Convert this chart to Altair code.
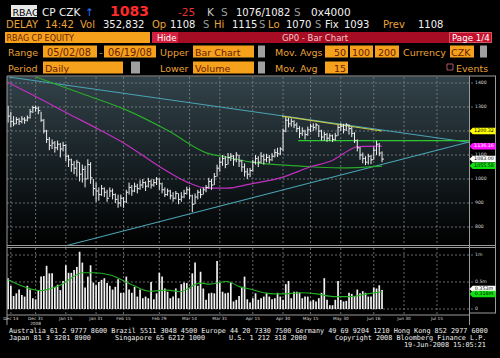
import altair as alt
import pandas as pd

# ---------------- data ----------------
close = [1262, 1240, 1230, 1248, 1240, 1250, 1245, 1255, 1280, 1298,
         1295, 1285, 1245, 1200, 1165, 1140, 1150, 1130, 1145, 1125,
         1140, 1095, 1080, 1060, 1045, 1070, 1020, 1040, 1000, 1060,
         1005, 960, 950, 935, 960, 945, 920, 950, 935, 915,
         900, 920, 905, 945, 965, 950, 970, 960, 975, 985,
         970, 990, 975, 985, 1000, 980, 955, 935, 950, 930,
         920, 940, 915, 925, 940, 955, 930, 895, 925, 945,
         935, 955, 965, 990, 975, 1010, 1045, 1070, 1085, 1060,
         1090, 1095, 1080, 1100, 1075, 1050, 1030, 1020, 1035, 1070,
         1085, 1070, 1095, 1080, 1090, 1080, 1095, 1110, 1105, 1125,
         1200, 1245, 1230, 1240, 1225, 1210, 1190, 1200, 1185, 1205,
         1220, 1215, 1225, 1200, 1175, 1185, 1170, 1180, 1165, 1180,
         1215, 1220, 1205, 1225, 1210, 1190, 1160, 1130, 1100, 1085,
         1070, 1095, 1080, 1120, 1145, 1108, 1083]
high = [1305, 1280, 1262, 1258, 1255, 1262, 1258, 1265, 1292, 1305,
        1305, 1302, 1280, 1250, 1205, 1175, 1165, 1158, 1160, 1150,
        1155, 1145, 1100, 1085, 1075, 1080, 1070, 1060, 1055, 1082,
        1070, 1000, 985, 965, 975, 965, 955, 965, 960, 940,
        935, 935, 925, 955, 985, 975, 985, 980, 995, 1000,
        990, 1005, 998, 1000, 1008, 1002, 985, 965, 960, 955,
        945, 950, 940, 945, 955, 968, 965, 935, 940, 955,
        960, 965, 975, 1005, 1000, 1025, 1060, 1090, 1100, 1095,
        1108, 1108, 1100, 1112, 1100, 1080, 1065, 1045, 1046, 1080,
        1100, 1095, 1112, 1105, 1105, 1100, 1108, 1125, 1130, 1133,
        1210, 1258, 1255, 1252, 1245, 1235, 1220, 1215, 1205, 1218,
        1230, 1232, 1233, 1225, 1205, 1196, 1192, 1190, 1185, 1192,
        1225, 1233, 1230, 1233, 1228, 1217, 1195, 1165, 1133, 1110,
        1095, 1105, 1100, 1135, 1160, 1150, 1115]
low = [1235, 1215, 1220, 1228, 1225, 1232, 1230, 1240, 1252, 1275,
       1280, 1270, 1238, 1190, 1150, 1120, 1125, 1110, 1120, 1090,
       1115, 1075, 1050, 1030, 1020, 1010, 990, 985, 965, 1000,
       980, 930, 905, 910, 930, 925, 905, 925, 915, 900,
       880, 885, 880, 900, 935, 930, 945, 940, 955, 962,
       950, 965, 960, 968, 975, 955, 940, 925, 930, 915,
       905, 915, 895, 905, 920, 935, 915, 862, 895, 915,
       920, 935, 945, 960, 955, 975, 1010, 1030, 1055, 1045,
       1060, 1075, 1055, 1070, 1050, 1030, 1010, 1000, 1008, 1030,
       1060, 1050, 1065, 1060, 1070, 1065, 1075, 1090, 1092, 1100,
       1115, 1195, 1215, 1218, 1212, 1195, 1170, 1180, 1165, 1180,
       1195, 1200, 1205, 1175, 1160, 1160, 1155, 1158, 1154, 1160,
       1180, 1200, 1190, 1200, 1185, 1175, 1150, 1115, 1080, 1065,
       1058, 1060, 1062, 1080, 1100, 1095, 1070]
volume_m = [0.57, 0.43, 0.24, 0.29, 0.36, 0.26, 0.23, 0.43, 0.36, 0.20,
            0.18, 0.35, 0.60, 0.61, 0.80, 0.66, 0.66, 0.41, 0.45, 0.35,
            0.52, 0.81, 0.67, 0.67, 0.72, 0.78, 1.06, 0.86, 0.40, 0.60,
            0.81, 0.49, 0.44, 0.50, 0.54, 0.57, 0.48, 0.43, 0.36, 0.41,
            0.55, 0.30, 0.30, 0.60, 0.36, 0.30, 0.41, 0.23, 0.36, 0.20,
            0.23, 0.20, 0.50, 0.18, 0.29, 0.67, 0.60, 0.38, 0.32,
            0.20, 0.23, 0.38, 0.20, 0.46, 0.49, 0.48, 0.38, 0.66, 0.86,
            0.43, 0.69, 0.38, 0.17, 0.29, 0.30, 0.29, 0.89, 0.48, 0.32,
            0.29, 0.30, 0.49, 0.14, 0.17, 0.24, 0.41, 0.60, 0.18,
            0.12, 0.20, 0.29, 0.17, 0.20, 0.23, 0.30, 0.23, 0.18, 0.20,
            0.30, 0.23, 0.17, 0.46, 0.52, 0.20, 0.32, 0.32, 0.30, 0.20,
            0.23, 0.23, 0.14, 0.17, 0.14, 0.20, 0.30, 0.57, 0.17, 0.07,
            0.07, 0.17, 0.52, 0.17, 0.14, 0.15, 0.30, 0.28, 0.24, 0.36,
            0.29, 0.33, 0.30, 0.23, 0.23, 0.40, 0.38, 0.44, 0.353]

# moving averages
ma_mag_idx = [0, 9, 21.4, 33.4, 43.2, 55.3, 65.1, 72.4, 79.6, 88, 100, 109.8, 118.2, 124, 127, 136]
ma_mag_val = [1402, 1350, 1275, 1204, 1142, 1050, 987, 962, 962, 979, 1008, 1050, 1079, 1120, 1135, 1137]
ma_grn_idx = [10.1, 27, 43.1, 57.8, 72.4, 80, 88, 106.2, 120.7, 136]
ma_grn_val = [1425, 1355, 1287, 1204, 1108, 1090, 1071, 1054, 1046, 1054]
vma_idx = [0, 4.3, 11.6, 18.9, 27.2, 30.9, 37.1, 45.4, 51.6, 57.8, 62.5, 69.8, 73.4, 79.6,
           84.4, 88, 94.2, 100, 106.2, 112.3, 118.2, 124.4, 130.6, 136]
vma_val = [0.54, 0.44, 0.34, 0.44, 0.67, 0.67, 0.63, 0.44, 0.33, 0.35, 0.32, 0.48, 0.46, 0.51,
           0.41, 0.37, 0.29, 0.28, 0.30, 0.28, 0.23, 0.23, 0.28, 0.32]

# drawn trend lines
upper_tr_idx = [0.3, 168]
upper_tr_val = [1425, 1152]
lower_tr_idx = [20.7, 168]
lower_tr_val = [721, 1155]
resist_idx = [99.6, 136]
resist_val = [1262, 1200]
level_idx = [105.5, 168]
level_val = [1160, 1160]

date_tick_idx = [1, 10, 21, 32, 42, 55, 66, 77, 89, 100, 110, 121, 133, 144, 156]
date_tick_labels = ["Dec 14", "Dec 31", "Jan 15", "Jan 31", "Feb 15", "Feb 29", "Mar 14",
                    "Mar 31", "Apr 15", "Apr 30", "May 15", "May 30", "Jun 16", "Jun 30", "Jul 15"]
year_idx = [10]
year_label = ["2008"]
price_ticks = [800, 900, 1000, 1100, 1200, 1300, 1400]
price_tick_labels = ["800", "900", "1000", "1100", "1200", "1300", "1400"]
vol_ticks = [0, 0.5, 1.0]
vol_tick_labels = ["0", "0.5m", "1m"]

price_tag_vals = [1200.32, 1136.16, 1083.00, 1055.58]
price_tag_text = ["1200.32", "1136.16", "1083.00", "1055.58"]
vol_tag_vals = [0.37, 0.28]
vol_tag_text = ["0.353m", "0.318m"]

# ---------------- styles ----------------
ORANGE = "#f5a11c"
ORANGE_T = "#eba236"
WHITE = "#f2f2f2"
GREYT = "#9b9b9b"
FIELD_T = "#6a2000"
GRID = "#7d8488"
FRAME = "#9a9a9a"
FONT = "DejaVu Sans"
MONO = "DejaVu Sans Mono"

XS = alt.Scale(domain=[-0.4, 168], range=[7, 470], nice=False, zero=False)
PS = alt.Scale(domain=[800, 1400], range=[227, 83], nice=False, zero=False)
VS = alt.Scale(domain=[0, 1], range=[309, 255], nice=False, zero=False)


def xi(f="i"):
    return alt.X(f + ":Q", scale=XS, axis=None)


def yp(f="p"):
    return alt.Y(f + ":Q", scale=PS, axis=None)


def yv(f="v"):
    return alt.Y(f + ":Q", scale=VS, axis=None)


one = alt.Data(values=[{}])
layers = []

# panel background gradient
grad = alt.LinearGradient(gradient="linear",
                          stops=[alt.GradientStop(color="#33434a", offset=0),
                                 alt.GradientStop(color="#121a1d", offset=0.6),
                                 alt.GradientStop(color="#000000", offset=1)],
                          x1=0, x2=0, y1=0, y2=1)
layers.append(alt.Chart(one).mark_rect(color=grad).encode(
    x=alt.value(7), x2=alt.value(469.5), y=alt.value(76.5), y2=alt.value(245)))

# gridlines
ticks_df = pd.DataFrame({"i": date_tick_idx, "t": date_tick_labels})
for y0, y1 in [(77, 245), (248, 315)]:
    layers.append(alt.Chart(ticks_df).mark_rule(color=GRID, strokeDash=[2, 2], strokeWidth=0.8).encode(
        x=xi(), y=alt.value(y0), y2=alt.value(y1)))
pt_df = pd.DataFrame({"p": price_ticks, "t": price_tick_labels})
layers.append(alt.Chart(pt_df).mark_rule(color=GRID, strokeDash=[2, 2], strokeWidth=0.8).encode(
    y=yp(), x=alt.value(7), x2=alt.value(473)))
vt_df = pd.DataFrame({"v": vol_ticks, "t": vol_tick_labels})
layers.append(alt.Chart(vt_df).mark_rule(color=GRID, strokeDash=[2, 2], strokeWidth=0.8).encode(
    y=yv(), x=alt.value(7), x2=alt.value(473)))


# trend lines
def seg(ix, vals, color, w=1.0):
    d = pd.DataFrame({"i": ix, "p": vals})
    return alt.Chart(d).mark_line(color=color, strokeWidth=w).encode(x=xi(), y=yp())


layers.append(seg(upper_tr_idx, upper_tr_val, "#4aa3b5", 1.1))
layers.append(seg(lower_tr_idx, lower_tr_val, "#4aa3b5", 1.1))
layers.append(seg(level_idx, level_val, "#2ec82e", 1.1))
layers.append(seg(resist_idx, resist_val, "#c4c84a", 1.1))

# moving averages
for ix, vals, col in [(ma_grn_idx, ma_grn_val, "#2aaa2a"), (ma_mag_idx, ma_mag_val, "#c030c0")]:
    d = pd.DataFrame({"i": ix, "p": vals})
    layers.append(alt.Chart(d).mark_line(color=col, strokeWidth=1.2, interpolate="monotone").encode(
        x=xi(), y=yp()))

# price bars
bars = pd.DataFrame({"i": list(range(len(close))), "h": high, "l": low, "c": close})
layers.append(alt.Chart(bars).mark_rule(color=WHITE, strokeWidth=1).encode(
    x=xi(), y=yp("l"), y2="h:Q"))
layers.append(alt.Chart(bars).mark_tick(color=WHITE, orient="horizontal", size=2, thickness=1,
                                        xOffset=1, opacity=1).encode(x=xi(), y=yp("c")))

# volume bars and average
vol = pd.DataFrame({"i": list(range(len(volume_m))), "v": volume_m})
layers.append(alt.Chart(vol).mark_rule(color=WHITE, strokeWidth=1.7).encode(
    x=xi(), y=yv(), y2=alt.datum(0)))
vma = pd.DataFrame({"i": vma_idx, "v": vma_val})
layers.append(alt.Chart(vma).mark_line(color="#22b022", strokeWidth=1.1, interpolate="monotone").encode(
    x=xi(), y=yv()))

# frame
frame = pd.DataFrame({
    "x0": [7, 7, 469.5, 495.5, 7, 7, 7, 469.5],
    "y0": [76, 76, 76, 76, 245.5, 247.5, 315, 313],
    "x1": [496, 7, 469.5, 495.5, 496, 496, 469.5, 496],
    "y1": [76, 325, 325, 313, 245.5, 247.5, 315, 313]})
layers.append(alt.Chart(frame).mark_rule(color=FRAME, strokeWidth=1).encode(
    x=alt.X("x0:Q", scale=None, axis=None), x2="x1:Q",
    y=alt.Y("y0:Q", scale=None, axis=None), y2="y1:Q"))

# axis labels (the 1200 label sits under the yellow value tag in the reference)
layers.append(alt.Chart(pt_df).transform_filter("datum.p != 1200").mark_text(
    font=FONT, fontSize=4.6, align="left", baseline="middle", color="#d8d8d8").encode(
    x=alt.value(475), y=yp(), text="t:N"))
layers.append(alt.Chart(vt_df).mark_text(font=FONT, fontSize=4.6, align="left", baseline="middle",
                                         color="#d8d8d8").encode(x=alt.value(475), y=yv(), text="t:N"))
layers.append(alt.Chart(ticks_df).mark_text(font=FONT, fontSize=4.3, align="center", baseline="middle",
                                            color="#d8d8d8").encode(x=xi(), y=alt.value(319), text="t:N"))
layers.append(alt.Chart(pd.DataFrame({"i": year_idx, "t": year_label})).mark_text(
    font=FONT, fontSize=4.3, align="center", baseline="middle", color="#d8d8d8").encode(
    x=xi(), y=alt.value(324), text="t:N"))

# value tags
TAG = "M-1,0L-0.75,-0.25L1,-0.25L1,0.25L-0.75,0.25Z"
ptag = pd.DataFrame({"p": price_tag_vals, "t": price_tag_text,
                     "f": ["#ffff00", "#ff10ff", "#ffffff", "#10e010"],
                     "k": ["#000000", "#ffffff", "#000000", "#000000"]})
layers.append(alt.Chart(ptag).mark_point(shape=TAG, filled=True, size=676, opacity=1, strokeWidth=0).encode(
    x=alt.value(482.5), y=yp(), color=alt.Color("f:N", scale=None)))
layers.append(alt.Chart(ptag).mark_text(font=FONT, fontSize=4.8, align="center", baseline="middle").encode(
    x=alt.value(484), y=yp(), text="t:N", color=alt.Color("k:N", scale=None)))
vtag = pd.DataFrame({"v": vol_tag_vals, "t": vol_tag_text,
                     "f": ["#ffffff", "#10e010"], "k": ["#000000", "#000000"]})
layers.append(alt.Chart(vtag).mark_point(shape=TAG, filled=True, size=676, opacity=1, strokeWidth=0).encode(
    x=alt.value(482.5), y=yv(), color=alt.Color("f:N", scale=None)))
layers.append(alt.Chart(vtag).mark_text(font=FONT, fontSize=4.8, align="center", baseline="middle").encode(
    x=alt.value(484), y=yv(), text="t:N", color=alt.Color("k:N", scale=None)))

# ---------------- terminal header (layout) ----------------
boxes = [
    (11, 5, 37, 17, "#e8e8e8"),
    (5, 32, 150, 43, ORANGE), (152, 32, 178, 43, "#d4203f"),
    (178, 32, 449, 43, "#a60c24"), (449, 32, 492, 43, "#c4102c"),
    (43, 45.5, 97, 57.5, ORANGE), (104, 45.5, 156, 57.5, ORANGE),
    (193, 45.5, 254, 57.5, ORANGE), (258, 45.5, 265, 57.5, "#a0a0a0"),
    (325, 45.5, 348, 57.5, ORANGE), (350, 45.5, 373, 57.5, ORANGE), (375, 45.5, 399, 57.5, ORANGE),
    (450, 45.5, 474, 57.5, ORANGE), (480, 45.5, 487, 57.5, "#a0a0a0"),
    (43, 61.5, 123, 73.5, ORANGE), (131, 61.5, 140, 73.5, "#a0a0a0"),
    (193, 61.5, 254, 73.5, ORANGE), (258, 61.5, 265, 73.5, "#a0a0a0"),
    (325, 61.5, 348, 73.5, ORANGE),
]
bdf = pd.DataFrame(boxes, columns=["x0", "y0", "x1", "y1", "f"])
layers.append(alt.Chart(bdf).mark_rect().encode(
    x=alt.X("x0:Q", scale=None, axis=None), x2="x1:Q",
    y=alt.Y("y0:Q", scale=None, axis=None), y2="y1:Q", color=alt.Color("f:N", scale=None)))
outl = pd.DataFrame([(449.5, 32.5, 491.5, 42.5), (447, 64, 453, 70)], columns=["x0", "y0", "x1", "y1"])
layers.append(alt.Chart(outl).mark_rect(fillOpacity=0, stroke="#d86a78", strokeWidth=0.8).encode(
    x=alt.X("x0:Q", scale=None, axis=None), x2="x1:Q",
    y=alt.Y("y0:Q", scale=None, axis=None), y2="y1:Q"))

texts = [
    ("RBAG", 12.5, 15.5, "#000000", 9.5),
    ("CP CZK", 42, 16, WHITE, 10.5),
    ("\u2191", 85, 16, "#2f6cff", 10.5),
    ("-25", 178, 16, "#e83030", 10.5),
    ("K", 207, 16, "#cfcfcf", 10.5),
    ("S", 221, 16, GREYT, 10.5),
    ("1076/1082", 236, 16, WHITE, 10),
    ("S", 294, 16, GREYT, 10.5),
    ("0x4000", 311, 16, WHITE, 10.5),
    ("DELAY", 6, 28, ORANGE_T, 10), ("14:42", 45, 28, ORANGE_T, 10), ("Vol", 80, 28, ORANGE_T, 10),
    ("352,832", 103, 28, WHITE, 10), ("Op", 152, 28, ORANGE_T, 10), ("1108", 170, 28, WHITE, 10),
    ("S", 203, 28, GREYT, 10), ("Hi", 214, 28, ORANGE_T, 10), ("1115", 232, 28, WHITE, 10),
    ("S", 259, 28, GREYT, 10), ("Lo", 268, 28, ORANGE_T, 10), ("1070", 286, 28, WHITE, 10),
    ("S", 315, 28, GREYT, 10), ("Fix", 325, 28, WHITE, 10), ("1093", 344, 28, WHITE, 10),
    ("Prev", 383, 28, ORANGE_T, 10), ("1108", 418, 28, WHITE, 10),
    ("RBAG CP EQUITY", 6.5, 40.5, FIELD_T, 8), ("Hide", 157, 40.5, "#ffffff", 8.5),
    ("GP0 - Bar Chart", 282, 40.5, "#f3c8c8", 8.5), ("Page 1/4", 452, 40.5, "#ffffff", 8.7),
    ("Range", 8, 56, ORANGE_T, 9.5), ("05/02/08", 47, 56, FIELD_T, 9.8), ("-", 99, 56, ORANGE_T, 9.5),
    ("06/19/08", 108, 56, FIELD_T, 9.8), ("Upper", 160, 56, ORANGE_T, 9.5),
    ("Bar Chart", 195, 56, FIELD_T, 9.5), ("Mov. Avgs", 275, 56, ORANGE_T, 9.5),
    ("50", 334, 56, FIELD_T, 9.5), ("100", 352, 56, FIELD_T, 9.5), ("200", 378, 56, FIELD_T, 9.5),
    ("Currency", 403, 56, ORANGE_T, 9.5), ("CZK", 451, 56, FIELD_T, 9.5),
    ("Period", 8, 71.5, ORANGE_T, 9.5), ("Daily", 45, 71.5, FIELD_T, 9.5),
    ("Lower", 160, 71.5, ORANGE_T, 9.5), ("Volume", 195, 71.5, FIELD_T, 9.5),
    ("Mov. Avg", 275, 71.5, ORANGE_T, 9.5), ("15", 334, 71.5, FIELD_T, 9.5),
    ("Events", 456, 71.5, ORANGE_T, 9.5),
]
tdf = pd.DataFrame(texts, columns=["t", "x", "y", "c", "s"])
layers.append(alt.Chart(tdf).mark_text(font=FONT, align="left", baseline="alphabetic").encode(
    x=alt.X("x:Q", scale=None, axis=None), y=alt.Y("y:Q", scale=None, axis=None),
    text="t:N", color=alt.Color("c:N", scale=None), size=alt.Size("s:Q", scale=None)))
layers.append(alt.Chart(pd.DataFrame({"t": ["1083"], "x": [110], "y": [16]})).mark_text(
    font=FONT, fontSize=14, fontWeight="bold", align="left", baseline="alphabetic", color="#ff2a2a").encode(
    x=alt.X("x:Q", scale=None, axis=None), y=alt.Y("y:Q", scale=None, axis=None), text="t:N"))

footer = [
    ("Australia 61 2 9777 8600 Brazil 5511 3048 4500 Europe 44 20 7330 7500 Germany 49 69 9204 1210 Hong Kong 852 2977 6000", 9, 333),
    ("Japan 81 3 3201 8900", 9, 340), ("Singapore 65 6212 1000", 115, 340),
    ("U.S. 1 212 318 2000", 229, 340), ("Copyright 2008 Bloomberg Finance L.P.", 335, 340),
    ("19-Jun-2008 15:05:21", 404, 347),
]
fdf = pd.DataFrame(footer, columns=["t", "x", "y"])
layers.append(alt.Chart(fdf).mark_text(font=MONO, fontSize=6.8, align="left", baseline="alphabetic",
                                       color="#f0f0f0").encode(
    x=alt.X("x:Q", scale=None, axis=None), y=alt.Y("y:Q", scale=None, axis=None), text="t:N"))

chart = alt.layer(*layers).resolve_scale(x="independent", y="independent", color="independent",
                                         size="independent").properties(
    width=500, height=358, autosize=alt.AutoSizeParams(type="none"), padding=0,
    background="#000000").configure_view(stroke=None)

chart.save("out.html", embed_options={"renderer": "svg", "actions": False})
